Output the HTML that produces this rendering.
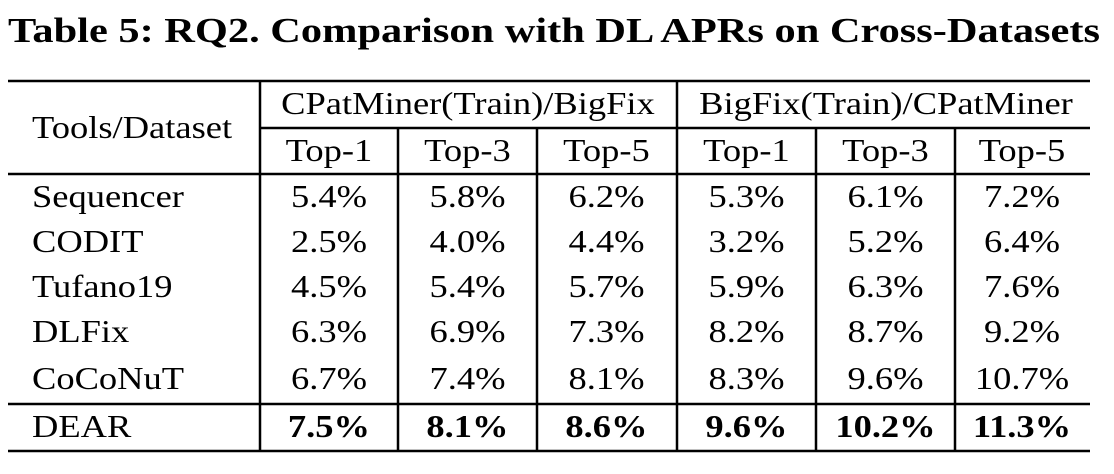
<!DOCTYPE html>
<html><head><meta charset="utf-8"><style>
html,body{margin:0;padding:0;background:#fff;}
svg{display:block;}
text{font-family:"Liberation Serif",serif;fill:#000;}
</style></head><body>
<svg id="svg" width="1114" height="474" viewBox="0 0 1114 474">
<text x="8" y="42" font-size="35" font-weight="bold" textLength="1092" lengthAdjust="spacingAndGlyphs">Table 5: RQ2. Comparison with DL APRs on Cross-Datasets</text>
<g stroke="#000" stroke-width="2.5">
<line x1="8" y1="81" x2="1090" y2="81"/>
<line x1="260" y1="128" x2="1090" y2="128"/>
<line x1="8" y1="174" x2="1090" y2="174"/>
<line x1="8" y1="404" x2="1090" y2="404"/>
<line x1="8" y1="451" x2="1090" y2="451"/>
<line x1="260" y1="81" x2="260" y2="451"/>
<line x1="677" y1="81" x2="677" y2="451"/>
<line x1="398" y1="128" x2="398" y2="451"/>
<line x1="537" y1="128" x2="537" y2="451"/>
<line x1="816" y1="128" x2="816" y2="451"/>
<line x1="955" y1="128" x2="955" y2="451"/>
</g>
<g font-size="32" class="st">
<text x="32" y="138">Tools/Dataset</text>
<text x="468" y="114" text-anchor="middle">CPatMiner(Train)/BigFix</text>
<text x="886" y="114" text-anchor="middle">BigFix(Train)/CPatMiner</text>
</g>
<g id="body" font-size="32" class="st"></g>
</svg>
<script>
const tools=["Sequencer","CODIT","Tufano19","DLFix","CoCoNuT","DEAR"];
const topLabels=["Top-1","Top-3","Top-5","Top-1","Top-3","Top-5"];
const values=[
["5.4%","5.8%","6.2%","5.3%","6.1%","7.2%"],
["2.5%","4.0%","4.4%","3.2%","5.2%","6.4%"],
["4.5%","5.4%","5.7%","5.9%","6.3%","7.6%"],
["6.3%","6.9%","7.3%","8.2%","8.7%","9.2%"],
["6.7%","7.4%","8.1%","8.3%","9.6%","10.7%"],
["7.5%","8.1%","8.6%","9.6%","10.2%","11.3%"]];
const colX=[329,467.5,606.5,746.5,885.5,1022];
const rowY=[207,252,297,342,389,437];
const g=document.getElementById('body');
const NS="http://www.w3.org/2000/svg";
function t(x,y,s,anchor,bold){const e=document.createElementNS(NS,'text');e.setAttribute('x',x);e.setAttribute('y',y);if(anchor)e.setAttribute('text-anchor',anchor);if(bold)e.setAttribute('font-weight','bold');e.textContent=s;g.appendChild(e);return e;}
topLabels.forEach((s,i)=>{const e=t(colX[i],161,s,'middle');

});
tools.forEach((tool,r)=>{const e=t(32,rowY[r],tool);


values[r].forEach((v,c)=>{const c2=t(colX[c],rowY[r],v,'middle',r===5);

});});
document.querySelectorAll('.st text').forEach(e=>{const w=e.getComputedTextLength();e.setAttribute('textLength',(w*1.14).toFixed(1));e.setAttribute('lengthAdjust','spacingAndGlyphs');});
</script>
</body></html>
